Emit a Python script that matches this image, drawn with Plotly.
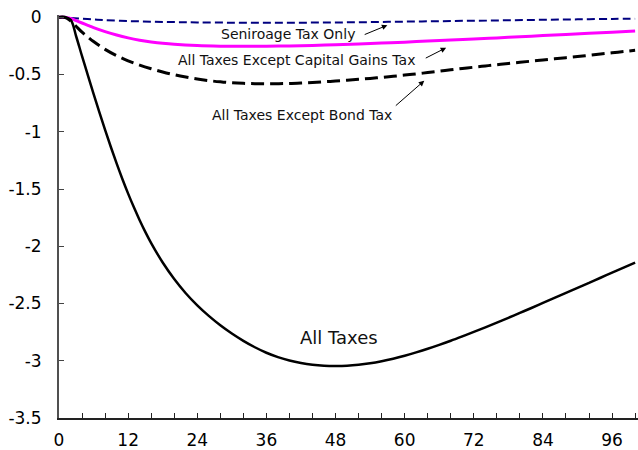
import plotly.graph_objects as go

# Months after the shock and the response (percent) of each tax scenario
all_tax_months = [0, 1, 2, 3, 4, 5, 6, 7, 8, 9, 10, 11, 12, 13, 14, 15, 16,
                  18, 20, 22, 24, 26, 28, 30, 32, 34, 36, 38, 40, 42, 44, 46, 48,
                  50, 52, 54, 56, 58, 60, 62, 64, 66, 68, 70, 72, 74, 76, 78, 80,
                  82, 84, 86, 88, 90, 92, 94, 96, 98, 100]
all_tax = [0, 0, -0.02, -0.17, -0.34, -0.505, -0.668, -0.828, -0.983, -1.133, -1.276,
           -1.412, -1.540, -1.660, -1.772, -1.876, -1.972,
           -2.142, -2.286, -2.410, -2.516, -2.608, -2.690, -2.762, -2.826, -2.882,
           -2.930, -2.968, -2.998, -3.020, -3.035, -3.043, -3.045,
           -3.043, -3.035, -3.022, -3.004, -2.982, -2.956, -2.927, -2.895, -2.861,
           -2.825, -2.787, -2.748, -2.708, -2.667, -2.625, -2.582,
           -2.539, -2.495, -2.451, -2.407, -2.363, -2.319, -2.275, -2.231, -2.187, -2.143]

bond_months = [0, 1, 2, 3, 4, 5, 6, 8, 10, 12, 14, 16, 18, 20, 22, 24, 26, 28, 30,
               32, 34, 36, 38, 40, 42, 44, 46, 48, 50, 52, 54, 56, 58, 60, 62, 64,
               66, 68, 70, 72, 74, 76, 78, 80, 82, 84, 86, 88, 90, 92, 94, 96, 98, 100]
except_bond = [0, 0, -0.03, -0.08, -0.13, -0.172, -0.212, -0.28, -0.335, -0.38, -0.418,
               -0.45, -0.478, -0.502, -0.522, -0.539, -0.553, -0.564, -0.572,
               -0.577, -0.58, -0.581, -0.58, -0.578, -0.574, -0.569, -0.563, -0.557,
               -0.55, -0.542, -0.534, -0.525, -0.515, -0.505, -0.494, -0.483,
               -0.471, -0.459, -0.447, -0.436, -0.425, -0.414, -0.403, -0.393, -0.383,
               -0.373, -0.363, -0.353, -0.343, -0.332, -0.321, -0.31, -0.299, -0.288]

cg_months = [0, 1, 2, 3, 4, 5, 6, 8, 10, 12, 14, 16, 18, 20, 24, 28, 32, 36, 40,
             44, 48, 52, 56, 60, 64, 68, 72, 76, 80, 84, 88, 92, 96, 100]
except_cap_gains = [0, 0, -0.01, -0.03, -0.05, -0.07, -0.09, -0.125, -0.155, -0.18,
                    -0.20, -0.215, -0.227, -0.236, -0.247, -0.252, -0.254, -0.253,
                    -0.25, -0.246, -0.24, -0.233, -0.225, -0.217, -0.208, -0.199,
                    -0.19, -0.18, -0.17, -0.16, -0.15, -0.14, -0.13, -0.12]

sen_months = [0, 2, 4, 6, 8, 12, 16, 20, 24, 30, 36, 42, 48, 54, 60, 66, 72, 78,
              84, 90, 96, 100]
seigniorage_only = [0, -0.005, -0.012, -0.019, -0.025, -0.033, -0.038, -0.042, -0.045,
                    -0.047, -0.048, -0.047, -0.045, -0.042, -0.038, -0.034, -0.030,
                    -0.026, -0.022, -0.018, -0.014, -0.012]

x_ticks = [0, 12, 24, 36, 48, 60, 72, 84, 96]
y_ticks = [0, -0.5, -1, -1.5, -2, -2.5, -3, -3.5]
y_tick_text = ["0", "-0.5", "-1", "-1.5", "-2", "-2.5", "-3", "-3.5"]

FONT = "DejaVu Sans"

fig = go.Figure()
fig.add_trace(go.Scatter(x=sen_months, y=seigniorage_only, mode="lines",
                         line=dict(color="#000080", width=2, dash="8px,4px", shape="spline"),
                         name="Seniroage Tax Only"))
fig.add_trace(go.Scatter(x=cg_months, y=except_cap_gains, mode="lines",
                         line=dict(color="#FF00FF", width=3, shape="spline"),
                         name="All Taxes Except Capital Gains Tax"))
fig.add_trace(go.Scatter(x=bond_months, y=except_bond, mode="lines",
                         line=dict(color="#000000", width=3, dash="13px,6px", shape="spline"),
                         name="All Taxes Except Bond Tax"))
fig.add_trace(go.Scatter(x=all_tax_months, y=all_tax, mode="lines",
                         line=dict(color="#000000", width=2.5, shape="spline"),
                         name="All Taxes"))

# Text labels for the curves
labels = [
    ("Seniroage Tax Only", 39.7, -0.147, 14),
    ("All Taxes Except Capital Gains Tax", 41.3, -0.372, 14),
    ("All Taxes Except Bond Tax", 42.2, -0.856, 14),
    ("All Taxes", 48.6, -2.80, 18),
]
for text, x, y, size in labels:
    fig.add_annotation(x=x, y=y, text=text, showarrow=False, xref="x", yref="y",
                       font=dict(family=FONT, size=size, color="#111111"))

# Pointer arrows from labels to curves: (tail month, tail value, head month, head value)
arrows = [
    (52.8, -0.156, 57.0, -0.069),
    (63.4, -0.363, 67.2, -0.266),
    (58.2, -0.783, 63.4, -0.554),
]
for tx, ty, hx, hy in arrows:
    fig.add_annotation(x=hx, y=hy, ax=tx, ay=ty, xref="x", yref="y", axref="x", ayref="y",
                       text="", showarrow=True, arrowhead=2, arrowsize=1.1,
                       arrowwidth=1, arrowcolor="#000000")

fig.update_layout(
    width=638, height=450,
    margin=dict(l=59, r=0, t=15, b=28),
    paper_bgcolor="white", plot_bgcolor="white",
    showlegend=False,
    font=dict(family=FONT, size=17, color="#000000"),
    xaxis=dict(range=[0, 100.5], tickvals=x_ticks, ticktext=[str(v) for v in x_ticks],
               ticks="inside", ticklen=5, tickwidth=1, tickcolor="#222222",
               showline=True, linecolor="#222222", linewidth=2,
               showgrid=False, zeroline=False, ticklabelstandoff=6,
               minor=dict(tickvals=[m for m in range(0, 101, 4) if m % 12], ticks="inside",
                          ticklen=5, tickwidth=1, tickcolor="#222222")),
    yaxis=dict(range=[-3.5, 0.02], tickvals=y_ticks, ticktext=y_tick_text,
               ticks="inside", ticklen=5, tickwidth=1, tickcolor="#444444",
               showline=True, linecolor="#505050", linewidth=2,
               showgrid=False, zeroline=False, ticklabelstandoff=12),
)

fig.write_html("out.html")
